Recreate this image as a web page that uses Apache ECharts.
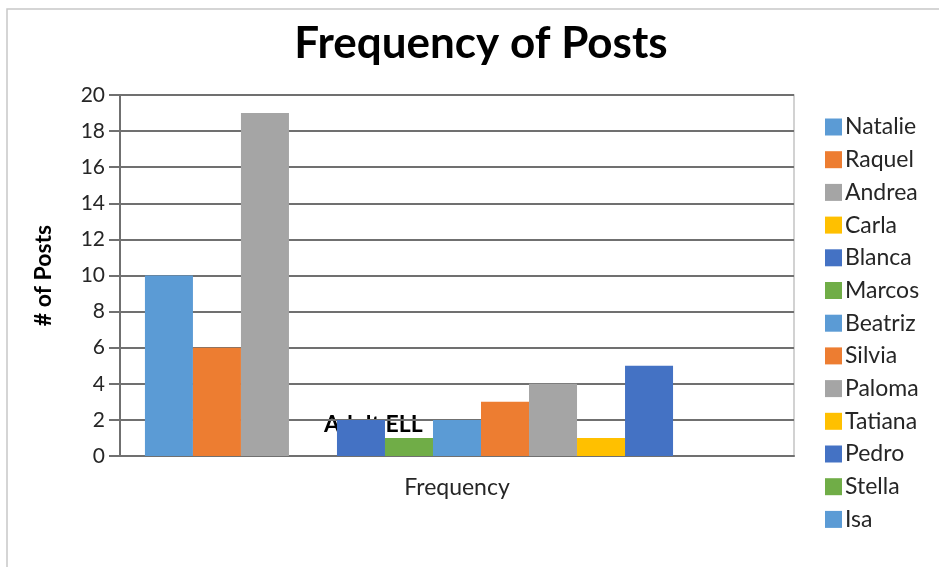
<!DOCTYPE html>
<html><head><meta charset="utf-8">
<script src="https://cdn.jsdelivr.net/npm/echarts@6/dist/echarts.min.js"></script>
<style>html,body{margin:0;padding:0;background:#fff}#c{width:939px;height:567px}</style>
</head><body><div id="c"></div>
<script>
const categories = ['Frequency'];
const seriesNames = ['Natalie','Raquel','Andrea','Carla','Blanca','Marcos','Beatriz','Silvia','Paloma','Tatiana','Pedro','Stella','Isa'];
const seriesValues = [10, 6, 19, 0, 2, 1, 2, 3, 4, 1, 5, 0, 0];
const colors = ['#5B9BD5','#ED7D31','#A5A5A5','#FFC000','#4472C4','#70AD47','#5B9BD5','#ED7D31','#A5A5A5','#FFC000','#4472C4','#70AD47','#5B9BD5'];
const yTicks = [0,2,4,6,8,10,12,14,16,18,20];

const font = 'Lato, "Open Sans", sans-serif';
const chart = echarts.init(document.getElementById('c'));
chart.setOption({
  animation: false,
  title: {text: 'Frequency of Posts', left: 476, top: 17, textAlign: 'center',
    textStyle: {fontFamily: font, fontWeight: 'bold', fontSize: 44, color: '#000'}},
  legend: {orient: 'vertical', left: 820, top: 110, bottom: 0, itemWidth: 17, itemHeight: 17, itemGap: 8.7,
    icon: 'rect', textStyle: {fontFamily: font, fontSize: 23, lineHeight: 24, color: '#262626', padding: [0,0,0,-2]},
    data: seriesNames},
  grid: {left: 120, right: 145, top: 95, bottom: 111, containLabel: false,
    show: true, borderColor: '#c4c4c4', borderWidth: 1.5},
  xAxis: {type: 'category', data: categories,
    axisLine: {lineStyle: {color: '#707070', width: 2}}, axisTick: {show: false},
    axisLabel: {fontFamily: font, fontSize: 23, color: '#262626', margin: 20}},
  yAxis: {type: 'value', min: yTicks[0], max: yTicks[yTicks.length-1], interval: 2,
    name: '# of Posts', nameLocation: 'middle', nameGap: 65, nameRotate: 90,
    nameTextStyle: {fontFamily: font, fontSize: 23, fontWeight: 'bold', color: '#000'},
    axisLine: {show: true, lineStyle: {color: '#707070', width: 2}},
    axisTick: {show: true, length: 11, lineStyle: {color: '#707070', width: 2}},
    splitLine: {lineStyle: {color: '#707070', width: 2}},
    axisLabel: {fontFamily: font, fontSize: 21, color: '#262626', margin: 15}},
  graphic: [
    {type: 'rect', shape: {x: 7, y: 9, width: 940, height: 570}, style: {fill: 'none', stroke: '#c8c8c8', lineWidth: 1.5}, z: 0},
    {type: 'text', left: 324, top: 413, z: 0, zlevel: 0, style: {text: 'Adult ELL', fontFamily: font, fontWeight: 'bold', fontSize: 23, fill: '#000'}}
  ],
  series: seriesNames.map((n, i) => ({
    name: n, type: 'bar', data: [seriesValues[i]], barGap: '0%', barCategoryGap: '7.4%',
    itemStyle: {color: colors[i]}, z: 10, zlevel: 1
  }))
});
</script></body></html>
